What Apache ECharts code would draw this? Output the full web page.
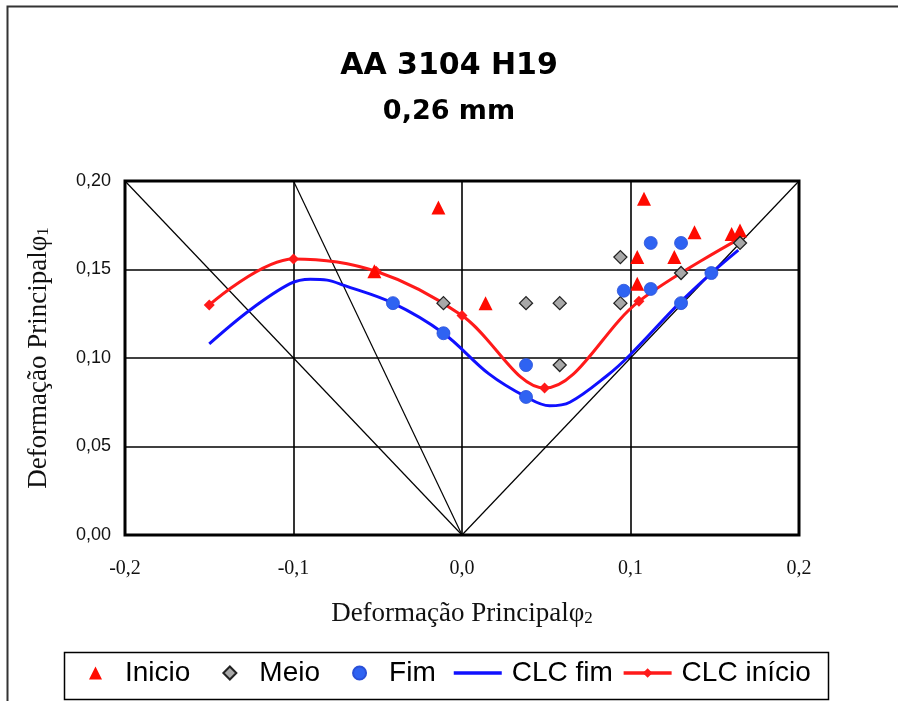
<!DOCTYPE html>
<html>
<head>
<meta charset="utf-8">
<script src="https://cdn.jsdelivr.net/npm/echarts@6/dist/echarts.min.js"></script>
<style>
  html, body { margin: 0; padding: 0; background: #fff; }
  #chart { width: 898px; height: 701px; }
</style>
</head>
<body>
<div id="chart"></div>
<script>
// pontos experimentais (phi2, phi1)
var inicio = [[-0.052, 0.149], [-0.014, 0.185], [0.014, 0.131], [0.108, 0.190], [0.104, 0.157],
  [0.104, 0.142], [0.126, 0.157], [0.138, 0.171], [0.160, 0.170], [0.165, 0.172]];
var meio = [[-0.011, 0.131], [0.038, 0.131], [0.058, 0.131], [0.094, 0.131], [0.094, 0.157],
  [0.058, 0.096], [0.130, 0.148], [0.165, 0.165]];
var fim = [[-0.041, 0.131], [-0.011, 0.114], [0.038, 0.096], [0.038, 0.078], [0.096, 0.138],
  [0.112, 0.139], [0.112, 0.165], [0.130, 0.165], [0.130, 0.131], [0.148, 0.148]];

// curvas limite de conformacao
var clcFim = [[-0.150, 0.108], [-0.126, 0.127], [-0.102, 0.142], [-0.090, 0.1445], [-0.080, 0.144],
  [-0.070, 0.141], [-0.041, 0.131], [-0.011, 0.114], [0.016, 0.091], [0.038, 0.078], [0.052, 0.073],
  [0.064, 0.075], [0.086, 0.090], [0.100, 0.102], [0.129, 0.131], [0.148, 0.148], [0.164, 0.161]];
var clcInicio = [[-0.150, 0.130], [-0.100, 0.156], [-0.051, 0.149], [0.000, 0.124], [0.049, 0.083],
  [0.105, 0.132], [0.164, 0.167]];

// linhas de referencia (trajetorias de deformacao)
var refLines = [
  [[-0.2, 0.2], [0, 0]],
  [[-0.1, 0.2], [0, 0]],
  [[0, 0], [0.2, 0.2]]
];

var chart = echarts.init(document.getElementById('chart'));

var nameRich = {
  t: { fontFamily: 'Liberation Serif', fontSize: 27, color: '#111', lineHeight: 30, verticalAlign: 'bottom' },
  s: { fontFamily: 'Liberation Serif', fontSize: 17, color: '#111', lineHeight: 2, verticalAlign: 'bottom' }
};
var legendFont = { fontFamily: 'Liberation Sans', fontSize: 28, color: '#000' };

var series = refLines.map(function (d) {
  return {
    type: 'line', data: d, symbol: 'none', silent: true, z: 1,
    lineStyle: { color: '#000', width: 1.2 }
  };
});

series.push(
  {
    name: 'CLC fim', type: 'line', data: clcFim, smooth: 0.35, symbol: 'none', z: 3,
    lineStyle: { color: '#1010ff', width: 3 }, itemStyle: { color: '#1010ff' }
  },
  {
    name: 'CLC início', type: 'line', data: clcInicio, smooth: 0.35, symbol: 'diamond', symbolSize: 11, z: 3,
    lineStyle: { color: '#ff1a1a', width: 3 }, itemStyle: { color: '#ff1a1a' }
  },
  {
    name: 'Inicio', type: 'scatter', data: inicio, symbol: 'triangle', symbolSize: 14, z: 4,
    itemStyle: { color: '#ff0a00', opacity: 1 }
  },
  {
    name: 'Meio', type: 'scatter', data: meio, symbol: 'diamond', symbolSize: 13, z: 4,
    itemStyle: { color: '#a8a8a8', borderColor: '#222', borderWidth: 1.3, opacity: 1 }
  },
  {
    name: 'Fim', type: 'scatter', data: fim, symbol: 'circle', symbolSize: 13, z: 4,
    itemStyle: { color: '#2f63f2', borderColor: '#2a50d8', borderWidth: 0.8, opacity: 1 }
  }
);

chart.setOption({
  backgroundColor: '#fff',
  animation: false,
  title: [
    {
      text: 'AA 3104 H19', left: 'center', top: 46,
      textStyle: { fontFamily: 'DejaVu Sans', fontWeight: 'bold', fontSize: 30, color: '#000' }
    },
    {
      text: '0,26 mm', left: 'center', top: 93,
      textStyle: { fontFamily: 'DejaVu Sans', fontWeight: 'bold', fontSize: 27, color: '#000' }
    }
  ],
  graphic: [
    {
      type: 'rect', left: 5, top: 4, silent: true,
      shape: { width: 1000, height: 1000 },
      style: { fill: 'none', stroke: '#333', lineWidth: 2 }
    },
    {
      // moldura da legenda
      type: 'rect', left: 62, top: 650, silent: true, z: -1,
      shape: { width: 764, height: 47 },
      style: { fill: 'none', stroke: '#000', lineWidth: 1.5 }
    }
  ],
  grid: {
    left: 125, top: 181, width: 674, height: 354,
    show: true, borderColor: '#000', borderWidth: 3, backgroundColor: '#fff'
  },
  xAxis: {
    type: 'value', min: -0.2, max: 0.2, interval: 0.1,
    axisLine: { show: false }, axisTick: { show: false },
    splitLine: { lineStyle: { color: '#000', width: 1.6 } },
    axisLabel: {
      margin: 24, fontFamily: 'Liberation Serif', fontSize: 20, color: '#111',
      formatter: function (v) { return v.toFixed(1).replace('.', ','); }
    },
    name: '{t|Deformação Principal}{t|φ}{s|2}',
    nameLocation: 'middle', nameGap: 62,
    nameTextStyle: { rich: nameRich }
  },
  yAxis: {
    type: 'value', min: 0, max: 0.2, interval: 0.05,
    axisLine: { show: false }, axisTick: { show: false },
    splitLine: { lineStyle: { color: '#000', width: 1.6 } },
    axisLabel: {
      margin: 14, fontFamily: 'Liberation Sans', fontSize: 18, color: '#111',
      formatter: function (v) { return v.toFixed(2).replace('.', ','); }
    },
    name: '{t|Deformação Principal}{t|φ}{s|1}',
    nameLocation: 'middle', nameGap: 73, nameRotate: 90,
    nameTextStyle: { rich: nameRich }
  },
  legend: [
    {
      // marcadores
      left: 89, top: 659, padding: 0,
      data: ['Inicio', 'Meio', 'Fim'],
      itemWidth: 13, itemHeight: 13, itemGap: 32,
      textStyle: Object.assign({ padding: [0, 0, 0, 18] }, legendFont)
    },
    {
      // curvas
      left: 452, top: 659, padding: 0,
      data: [
        { name: 'CLC fim', itemStyle: { opacity: 0 } },
        'CLC início'
      ],
      itemWidth: 48, itemHeight: 12, itemGap: 9,
      lineStyle: { width: 3.5 },
      textStyle: Object.assign({ padding: [0, 0, 0, 5] }, legendFont)
    }
  ],
  series: series
});
</script>
</body>
</html>
